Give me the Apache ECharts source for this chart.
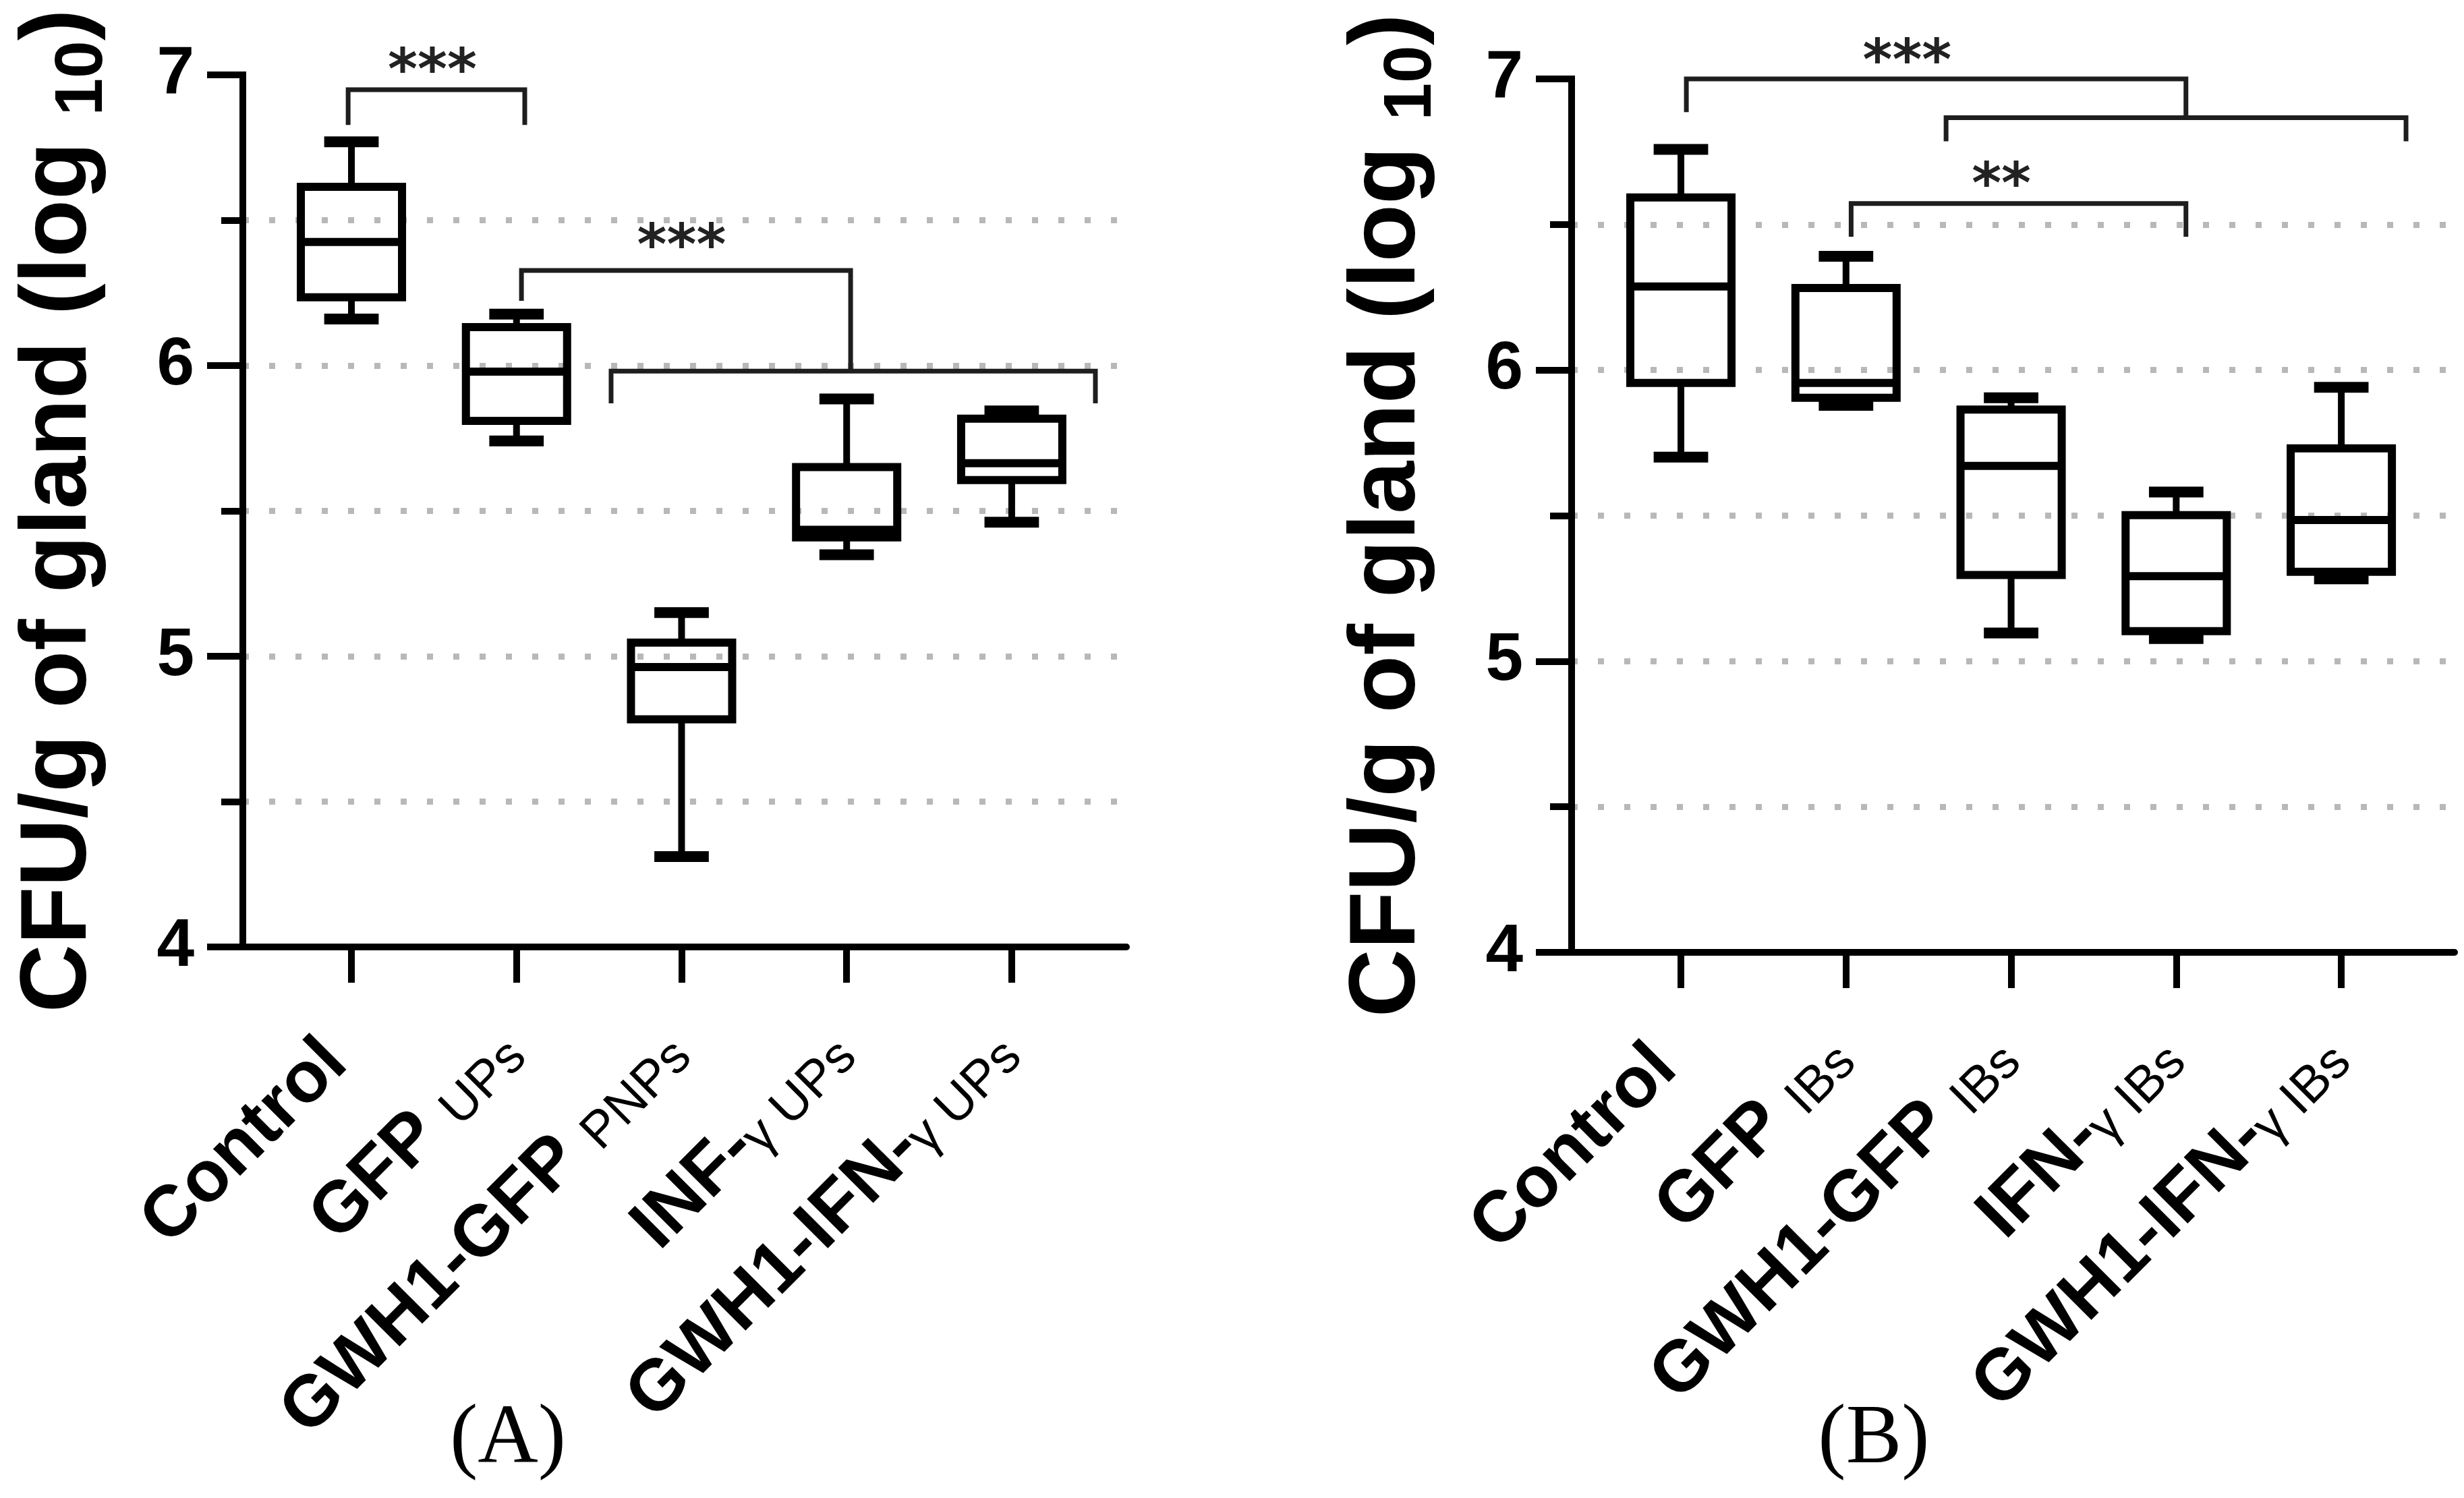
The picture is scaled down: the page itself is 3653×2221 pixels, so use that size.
<!DOCTYPE html>
<html>
<head>
<meta charset="utf-8">
<script src="https://cdn.jsdelivr.net/npm/echarts@6/dist/echarts.min.js"></script>
<style>
  html, body { margin: 0; padding: 0; background: #fff; }
  #chart { width: 3653px; height: 2221px; }
</style>
</head>
<body>
<div id="chart"></div>
<script>
// group labels: [bold part, small trailing part]
const labelsA = [['Control', ' '], ['GFP ', 'UPs'], ['GWH1-GFP ', 'PNPs'], ['INF-', 'γ UPs'], ['GWH1-IFN-', 'γ UPs']];
const labelsB = [['Control', ' '], ['GFP ', 'IBs'], ['GWH1-GFP ', 'IBs'], ['IFN-', 'γ IBs'], ['GWH1-IFN-', 'γ IBs']];

// [min, Q1, median, Q3, max] per group (log10 CFU/g)
const boxesA = [
  [6.16, 6.235, 6.425, 6.615, 6.77],
  [5.741, 5.81, 5.979, 6.132, 6.177],
  [4.311, 4.783, 4.963, 5.047, 5.15],
  [5.349, 5.409, 5.435, 5.651, 5.885],
  [5.461, 5.606, 5.664, 5.817, 5.844]
];
const boxesB = [
  [5.701, 5.956, 6.287, 6.593, 6.758],
  [5.879, 5.905, 5.956, 6.282, 6.391],
  [5.097, 5.296, 5.671, 5.864, 5.905],
  [5.078, 5.103, 5.292, 5.502, 5.581],
  [5.283, 5.307, 5.485, 5.731, 5.941]
];

// significance brackets: [xLeft, xRight, yTop, yLeftEnd, yRightEnd]
const bracketsA = [
  [-0.02, 1.05, 6.949, 6.828, 6.828],
  [1.03, 3.024, 6.327, 6.223, 5.981],
  [1.573, 4.507, 5.981, 5.87, 5.87]
];
const bracketsB = [
  [0.033, 3.059, 7.0, 6.886, 6.867],
  [1.606, 4.392, 6.867, 6.786, 6.786],
  [1.031, 3.059, 6.572, 6.458, 6.458]
];
// star marks: [x, y, text]
const starsA = [[0.49, 7.051, '***'], [2.0, 6.448, '***']];
const starsB = [[1.37, 7.096, '***'], [1.941, 6.674, '**']];

const yTicks = [4, 5, 6, 7];
const groupTicks = [0, 1, 2, 3, 4];

const SANS = 'Liberation Sans';
const dots = { color: '#b8b8b8', width: 9, type: [9, 30] };

function renderBox(params, api) {
  const x = api.value(0);
  const p = (v) => api.coord([x, v]);
  const half = api.size([0.613, 0])[0] / 2;
  const capHalf = api.size([0.33, 0])[0] / 2;
  const lo = p(api.value(1)), q1 = p(api.value(2)), md = p(api.value(3)), q3 = p(api.value(4)), hi = p(api.value(5));
  const cx = lo[0];
  const line = (x1, y1, x2, y2, w) => ({
    type: 'line', shape: { x1, y1, x2, y2 }, style: { stroke: '#000', lineWidth: w }
  });
  return {
    type: 'group',
    children: [
      line(cx, hi[1], cx, q3[1], 10),
      line(cx, q1[1], cx, lo[1], 10),
      line(cx - capHalf, hi[1], cx + capHalf, hi[1], 16),
      line(cx - capHalf, lo[1], cx + capHalf, lo[1], 16),
      {
        type: 'rect',
        shape: { x: cx - half, y: q3[1], width: 2 * half, height: q1[1] - q3[1] },
        style: { fill: 'none', stroke: '#000', lineWidth: 12 }
      },
      line(cx - half, md[1], cx + half, md[1], 12)
    ]
  };
}

function renderBracket(params, api) {
  const a = api.coord([api.value(0), api.value(3)]);
  const b = api.coord([api.value(0), api.value(2)]);
  const c = api.coord([api.value(1), api.value(2)]);
  const d = api.coord([api.value(1), api.value(4)]);
  return {
    type: 'polyline',
    shape: { points: [a, b, c, d] },
    style: { fill: 'none', stroke: '#1e1e1e', lineWidth: 7 }
  };
}

function starRenderer(stars) {
  return function (params, api) {
    const pt = api.coord([api.value(0), api.value(1)]);
    return {
      type: 'text',
      x: pt[0],
      y: pt[1] + 20,
      style: {
        text: stars[params.dataIndex][2],
        fill: '#222',
        fontFamily: 'DejaVu Sans',
        fontWeight: 'bold',
        fontSize: 84,
        align: 'center',
        verticalAlign: 'middle'
      }
    };
  };
}

function yAxisFor(gridIndex) {
  return {
    type: 'value',
    gridIndex: gridIndex,
    min: 4,
    max: 7,
    interval: 1,
    name: '{m|CFU/g of gland (log }{s|10}{m|)}',
    nameLocation: 'middle',
    nameRotate: 90,
    nameGap: 187,
    nameTextStyle: {
      rich: {
        m: { fontSize: 140, fontWeight: 'bold', fontFamily: SANS, color: '#000', lineHeight: 170 },
        s: { fontSize: 100, fontWeight: 'bold', fontFamily: SANS, color: '#000', lineHeight: 76, verticalAlign: 'bottom' }
      }
    },
    axisLine: { show: true, onZero: false, lineStyle: { color: '#000', width: 10, cap: 'square' } },
    axisTick: { show: true, length: 53, lineStyle: { color: '#000', width: 10 } },
    minorTick: { show: true, splitNumber: 2, length: 32, lineStyle: { color: '#000', width: 10 } },
    axisLabel: {
      fontSize: 100, fontWeight: 'bold', fontFamily: SANS, color: '#000', margin: 72,
      formatter: (v) => (yTicks.indexOf(v) >= 0 ? String(v) : '')
    },
    splitLine: { show: true, showMinLine: false, showMaxLine: false, lineStyle: dots },
    minorSplitLine: { show: true, lineStyle: dots }
  };
}

function xAxisFor(gridIndex, min, max, labels) {
  return {
    type: 'value',
    gridIndex: gridIndex,
    min: min,
    max: max,
    axisLine: { show: true, onZero: false, lineStyle: { color: '#000', width: 10 } },
    axisTick: { show: true, customValues: groupTicks, length: 53, lineStyle: { color: '#000', width: 10 } },
    axisLabel: {
      show: true,
      customValues: groupTicks,
      rotate: 45,
      margin: 136,
      padding: [0, 9, 18, 0],
      formatter: (v) => {
        const l = labels[Math.round(v)];
        return '{b|' + l[0] + '}{s|' + l[1] + '}';
      },
      rich: {
        b: { fontSize: 107, fontWeight: 'bold', fontFamily: SANS, color: '#000', lineHeight: 120, verticalAlign: 'bottom' },
        s: { fontSize: 76, fontFamily: SANS, color: '#000', lineHeight: 62, verticalAlign: 'bottom' }
      }
    },
    splitLine: { show: false }
  };
}

function panelTitle(letter, cx) {
  return {
    text: '(' + letter + ')',
    left: cx,
    top: 2065,
    textAlign: 'center',
    textStyle: {
      fontFamily: 'Liberation Serif', fontSize: 124, fontWeight: 'normal', color: '#000', lineHeight: 130
    }
  };
}

function panelSeries(idx, boxes, brackets, stars) {
  return [
    {
      type: 'custom', xAxisIndex: idx, yAxisIndex: idx, clip: false,
      renderItem: renderBox,
      data: boxes.map((b, i) => [i].concat(b))
    },
    {
      type: 'custom', xAxisIndex: idx, yAxisIndex: idx, clip: false,
      renderItem: renderBracket,
      data: brackets
    },
    {
      type: 'custom', xAxisIndex: idx, yAxisIndex: idx, clip: false,
      renderItem: starRenderer(stars),
      data: stars.map((s) => [s[0], s[1]])
    }
  ];
}

const myChart = echarts.init(document.getElementById('chart'));
const option = {
  animation: false,
  backgroundColor: '#fff',
  title: [panelTitle('A', 748), panelTitle('B', 2773)],
  grid: [
    { left: 360, top: 111, width: 1310, height: 1293 },
    { left: 2330, top: 117, width: 1309, height: 1295 }
  ],
  xAxis: [
    xAxisFor(0, -0.658, 4.695, labelsA),
    xAxisFor(1, -0.662, 4.686, labelsB)
  ],
  yAxis: [yAxisFor(0), yAxisFor(1)],
  series: panelSeries(0, boxesA, bracketsA, starsA).concat(panelSeries(1, boxesB, bracketsB, starsB))
};
myChart.setOption(option);
</script>
</body>
</html>
